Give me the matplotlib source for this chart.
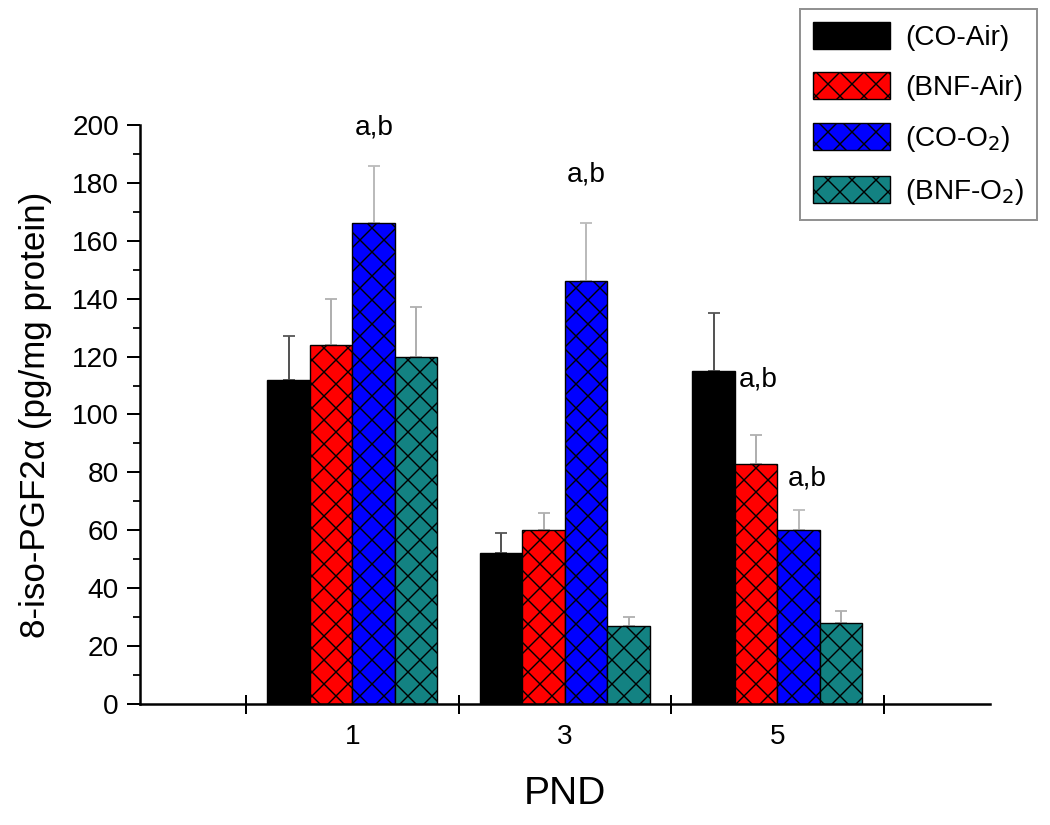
import numpy as np
import matplotlib
matplotlib.use('Agg')
import matplotlib.pyplot as plt
from matplotlib.ticker import MultipleLocator, FixedLocator

plt.rcParams['font.family'] = ['Liberation Sans', 'DejaVu Sans']
plt.rcParams['hatch.linewidth'] = 0.7

# data
days = ['1', '3', '5']
groups = ['(CO-Air)', '(BNF-Air)', '(CO-O$_2$)', '(BNF-O$_2$)']
co_air = [112, 52, 115]
bnf_air = [124, 60, 83]
co_o2 = [166, 146, 60]
bnf_o2 = [120, 27, 28]
err_co_air = [15, 7, 20]
err_bnf_air = [16, 6, 10]
err_co_o2 = [20, 20, 7]
err_bnf_o2 = [17, 3, 4]

colors = ['#000000', '#ff0000', '#0000ff', '#138282']
hatches = [None, 'xx', 'xx', 'xx']
err_colors = ['#555555', '#b0b0b0', '#bbbbbb', '#b0b0b0']

# dpi 144 so that the 'xx' hatch cell is about 12 px wide
DPI = 144
fig = plt.figure(figsize=(1050 / DPI, 825 / DPI), dpi=DPI)
ax = fig.add_axes([0.1333, 0.1467, 0.8095, 0.7018])

x = np.arange(len(days))
width = 0.2
series = [co_air, bnf_air, co_o2, bnf_o2]
errors = [err_co_air, err_bnf_air, err_co_o2, err_bnf_o2]
handles = []
for i, (vals, errs) in enumerate(zip(series, errors)):
    pos = x + (i - 1.5) * width
    ax.errorbar(pos, vals, yerr=[np.zeros(len(errs)), errs], fmt='none',
                ecolor=err_colors[i], elinewidth=1.0, capsize=2.8, capthick=0.9, zorder=1)
    b = ax.bar(pos, vals, width, color=colors[i], edgecolor='black',
               hatch=hatches[i], linewidth=0.7, label=groups[i], zorder=2)
    handles.append(b)

# significance marks
ax.text(0.1, 199, 'a,b', ha='center', va='center', fontsize=14)
ax.text(1.1, 183, 'a,b', ha='center', va='center', fontsize=14)
ax.text(1.82, 112, 'a,b', ha='left', va='center', fontsize=14)
ax.text(2.05, 78, 'a,b', ha='left', va='center', fontsize=14)

ax.set_xlim(-1, 3)
ax.set_ylim(0, 200)
ax.spines['top'].set_visible(False)
ax.spines['right'].set_visible(False)
ax.spines['left'].set_linewidth(1.25)
ax.spines['bottom'].set_linewidth(1.25)

ax.set_xticks(x)
ax.set_xticklabels(days, fontsize=14)
ax.xaxis.set_minor_locator(FixedLocator([-0.5, 0.5, 1.5, 2.5]))
ax.tick_params(axis='x', which='major', length=0, pad=10)
ax.tick_params(axis='x', which='minor', direction='inout', length=9.5, width=1.0)

ax.yaxis.set_major_locator(MultipleLocator(20))
ax.yaxis.set_minor_locator(MultipleLocator(10))
ax.tick_params(axis='y', which='major', direction='out', length=6.5, width=1.0,
               labelsize=14, pad=4)
ax.tick_params(axis='y', which='minor', direction='out', length=3.5, width=0.9)

ax.set_ylabel('8-iso-PGF2\u03b1 (pg/mg protein)', fontsize=17.5, labelpad=10)
ax.set_xlabel('PND', fontsize=19.5, labelpad=13)

leg = fig.legend(handles=handles, labels=groups, loc='upper left',
                 bbox_to_anchor=(0.762, 0.989), fontsize=14, frameon=True,
                 fancybox=False, edgecolor='#777777', handlelength=2.75,
                 handleheight=1.1, handletextpad=0.55, labelspacing=0.78,
                 borderpad=0.45, borderaxespad=0)
leg.get_frame().set_linewidth(1.0)

fig.savefig('out.png', dpi=DPI)
